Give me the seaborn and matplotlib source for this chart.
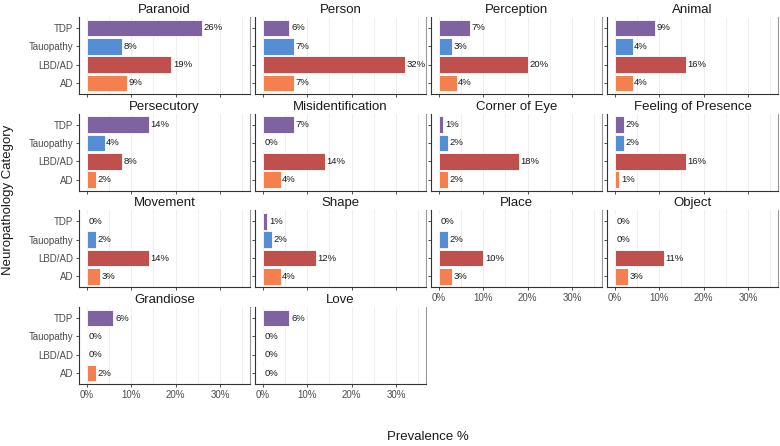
import pandas as pd
import numpy as np
import seaborn as sns
import matplotlib.pyplot as plt
from matplotlib.ticker import MultipleLocator, FuncFormatter

# categorias y paneles
categorias = ['TDP', 'Tauopathy', 'LBD/AD', 'AD']
paneles = ['Paranoid', 'Person', 'Perception', 'Animal',
           'Persecutory', 'Misidentification', 'Corner of Eye', 'Feeling of Presence',
           'Movement', 'Shape', 'Place', 'Object',
           'Grandiose', 'Love']

# prevalencia (%) por panel, en el orden de categorias
tdp = [26, 6, 7, 9, 14, 7, 1, 2, 0, 1, 0, 0, 6, 6]
tauopathy = [8, 7, 3, 4, 4, 0, 2, 2, 2, 2, 2, 0, 0, 0]
lbd_ad = [19, 32, 20, 16, 8, 14, 18, 16, 14, 12, 10, 11, 0, 0]
ad = [9, 7, 4, 4, 2, 4, 2, 1, 3, 4, 3, 3, 2, 0]

colores = {'TDP': '#7F63A1', 'Tauopathy': '#558ED5', 'LBD/AD': '#C0504D', 'AD': '#F5804F'}

# armar tabla larga
filas = []
for i, p in enumerate(paneles):
    for cat, serie in zip(categorias, [tdp, tauopathy, lbd_ad, ad]):
        filas.append({'panel': p, 'cat': cat, 'valor': serie[i]})
df = pd.DataFrame(filas)

sns.set_style('white')
plt.rcParams['font.family'] = ['Liberation Sans', 'DejaVu Sans']

g = sns.catplot(data=df, x='valor', y='cat', hue='cat', col='panel', col_wrap=4,
                kind='bar', order=categorias, hue_order=categorias, col_order=paneles,
                palette=colores, legend=False, sharex=True, height=1.2, aspect=2.2,
                edgecolor='white', linewidth=0.6, width=0.9, saturation=1)

g.figure.set_size_inches(7.8, 4.46)
g.figure.subplots_adjust(left=79/780, right=778/780, top=1-17/446, bottom=1-384/446,
                         wspace=0.029, hspace=0.256)
g.set_titles('{col_name}', size=9.5, color='#1A1A1A', pad=3)

for ax in g.axes.flat:
    ax.set_xlim(-1.75, 36.75)
    ax.set_ylim(3.6, -0.6)
    ax.xaxis.set_major_locator(MultipleLocator(10))
    ax.xaxis.set_minor_locator(MultipleLocator(5))
    ax.xaxis.set_major_formatter(FuncFormatter(lambda v, pos: f'{v:.0f}%'))
    ax.grid(True, axis='x', which='both', color='#EBEBEB', lw=0.6)
    ax.set_axisbelow(True)
    ax.set_xlabel('')
    ax.set_ylabel('')
    for s in ['left', 'bottom']:
        ax.spines[s].set_visible(True)
        ax.spines[s].set_color('#333333')
        ax.spines[s].set_linewidth(0.8)
    ax.spines['right'].set_visible(True)
    ax.spines['right'].set_color('#999999')
    ax.spines['right'].set_linewidth(0.8)
    ax.spines['top'].set_visible(False)
    ax.tick_params(axis='both', which='major', length=2.5, width=0.6, color='#333333',
                   labelsize=7, labelcolor='#4D4D4D', pad=1.5, left=True, bottom=True)
    ax.tick_params(axis='x', which='minor', length=0)
    for cont in ax.containers:
        ax.bar_label(cont, fmt='%d%%', padding=1.2, fontsize=6.8, color='#1A1A1A')

g.figure.text(428/780, 1-437/446, 'Prevalence %', ha='center', va='center',
              fontsize=9.5, color='#1A1A1A')
g.figure.text(8/780, 1-200/446, 'Neuropathology Category', ha='center', va='center',
              rotation=90, fontsize=9.5, color='#1A1A1A')

plt.savefig('out.png', dpi=100)
